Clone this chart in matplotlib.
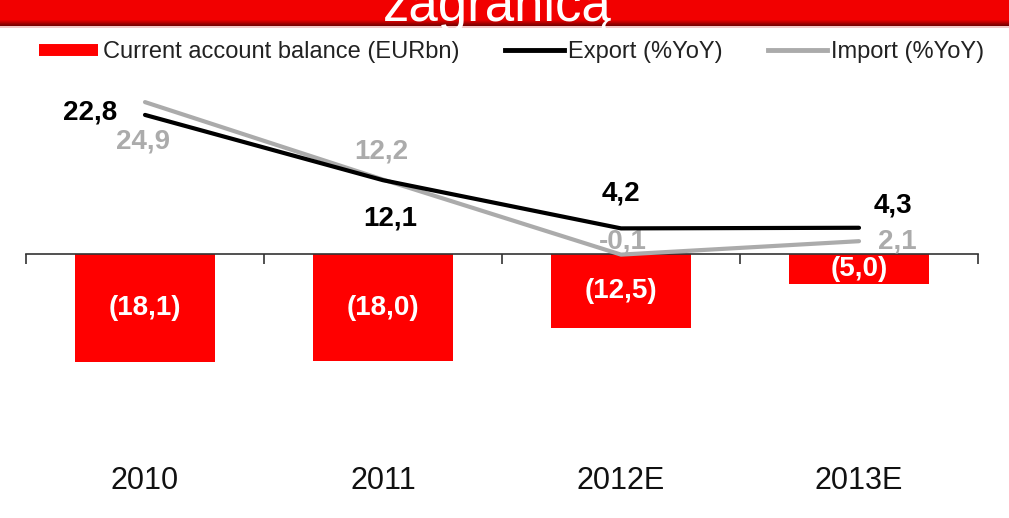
import matplotlib.pyplot as plt
from matplotlib.patches import Rectangle
from matplotlib.lines import Line2D
import matplotlib.transforms as mtransforms

plt.rcParams['font.family'] = ['Liberation Sans', 'DejaVu Sans']

# dane
years = ['2010', '2011', '2012E', '2013E']
balance = [-18.1, -18.0, -12.5, -5.0]
export = [22.8, 12.1, 4.2, 4.3]
imports = [24.9, 12.2, -0.1, 2.1]
balance_lbl = ['(18,1)', '(18,0)', '(12,5)', '(5,0)']
export_lbl = ['22,8', '12,1', '4,2', '4,3']
import_lbl = ['24,9', '12,2', '-0,1', '2,1']

red = '#ff0000'
grey = '#ababab'

W, H = 1009, 518
fig = plt.figure(figsize=(W / 100, H / 100), dpi=100)

# czerwony pasek u gory
fig.add_artist(Rectangle((0, 1 - 20 / H), 1, 20 / H, transform=fig.transFigure,
                         color='#f20000', lw=0))
shades = ['#e00000', '#cc0000', '#b80000', '#a00000', '#8c0000', '#7a0000']
for i, c in enumerate(shades):
    fig.add_artist(Rectangle((0, 1 - (21 + i) / H), 1, 1 / H, transform=fig.transFigure,
                             color=c, lw=0))
fig.add_artist(Rectangle((0, 1 - 28 / H), 1, 1.5 / H, transform=fig.transFigure,
                         color='#f3c8c8', lw=0))
fig.text(497 / W, 1 - 21 / H, 'zagranicą', color='white', fontsize=38,
         ha='center', va='baseline')

ax = fig.add_axes([26 / W, (H - 450) / H, 952 / W, 370 / H])
x = range(len(years))
ax.bar(x, balance, width=0.585, color=red, zorder=2)
ax.set_xlim(-0.5, 3.5)
ax.set_ylim(-196 / 5.95, 174 / 5.95)
for s in ['top', 'right', 'left']:
    ax.spines[s].set_visible(False)
ax.spines['bottom'].set_position(('data', 0))
ax.spines['bottom'].set_color('#333333')
ax.spines['bottom'].set_linewidth(1.2)
ax.set_xticks([-0.5, 0.5, 1.5, 2.5, 3.5])
ax.tick_params(axis='x', direction='out', length=7.5, width=1.2, color='#333333',
               labelbottom=False)
ax.set_yticks([])

for i, v in enumerate(balance):
    ax.text(i, v / 2, balance_lbl[i], color='white', fontsize=20, fontweight='bold',
            ha='center', va='center', zorder=3)

trans = mtransforms.blended_transform_factory(ax.transData, ax.transAxes)
for i, y in enumerate(years):
    ax.text(i, -0.084, y, transform=trans, fontsize=22, ha='center', va='center',
            color='#111111')

ax2 = ax.twinx()
ax2.set_ylim(-196 / 6.1, 174 / 6.1)
ax2.axis('off')
ax2.plot(x, imports, color=grey, lw=3, solid_capstyle='round', zorder=3)
ax2.plot(x, export, color='black', lw=3, solid_capstyle='round', zorder=4)

exp_off = [(-55, 2), (7, -38), (0, 35), (34, 22)]
imp_off = [(-2, -39), (-2, 28), (2, 13), (38, 0)]
for i in x:
    ax2.annotate(export_lbl[i], (i, export[i]), xytext=exp_off[i], textcoords='offset pixels',
                 ha='center', va='center', fontsize=20, fontweight='bold', color='black')
    ax2.annotate(import_lbl[i], (i, imports[i]), xytext=imp_off[i], textcoords='offset pixels',
                 ha='center', va='center', fontsize=20, fontweight='bold', color=grey)

handles = [Line2D([], [], color=red, lw=8.6, solid_capstyle='butt'),
           Line2D([], [], color='black', lw=3.5),
           Line2D([], [], color=grey, lw=3.5)]
labels = ['Current account balance (EURbn)', 'Export (%YoY)', 'Import (%YoY)']
leg = fig.legend(handles, labels, loc='center', bbox_to_anchor=(512 / W, 1 - 52 / H),
                 ncol=3, frameon=False, fontsize=17, handlelength=2.5,
                 handletextpad=0.2, columnspacing=1.9)
for t in leg.get_texts():
    t.set_color('#222222')

fig.savefig('out.png', dpi=100)
